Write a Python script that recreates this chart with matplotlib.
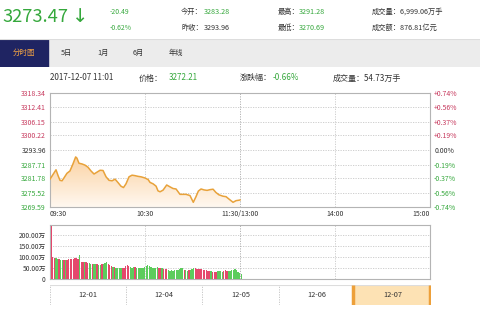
import numpy as np
import matplotlib
matplotlib.use("Agg")
import matplotlib.pyplot as plt
from matplotlib.colors import LinearSegmentedColormap
from matplotlib.patches import Rectangle

plt.rcParams['font.family'] = ['Noto Sans CJK SC', 'DejaVu Sans']

W, H = 481, 311

# ---------------- data ----------------
price_minutes = [0, 1.9, 3.8, 5.1, 6.3, 7.6, 8.8, 10.7, 12.6, 14.5, 16.2, 17, 18.3, 20.2, 22.1,
                 24, 25.9, 27.8, 29.7, 31.6, 33.5, 35.4, 37.3, 39.2, 41.1, 43, 44.8, 46.4, 48,
                 49.9, 51.8, 53.7, 55.6, 57.5, 60, 62, 63.2, 65.1, 67, 68.2, 69.5, 71.4, 73.7,
                 75.8, 77.7, 79.6, 82.1, 84, 85.9, 88.4, 90.5, 92.2, 93.7, 95.4, 97.3, 99.2,
                 101, 103, 104.8, 106.7, 109.3, 111.2, 113, 115.6, 117.5, 119.4, 120]
prices = [3281.5, 3283.5, 3285.5, 3283.0, 3281.0, 3280.8, 3282.0, 3284.0, 3285.0, 3288.0,
          3291.0, 3290.5, 3288.3, 3288.0, 3287.5, 3286.6, 3285.0, 3283.7, 3284.5, 3285.3,
          3285.2, 3282.5, 3281.0, 3280.8, 3281.5, 3280.0, 3278.5, 3277.9, 3279.5, 3282.5,
          3283.2, 3283.0, 3282.7, 3282.5, 3282.0, 3281.3, 3280.1, 3279.5, 3278.5, 3276.5,
          3276.1, 3276.8, 3279.0, 3278.2, 3277.5, 3277.3, 3275.0, 3275.0, 3275.0, 3274.5,
          3271.6, 3274.0, 3276.4, 3277.3, 3276.9, 3276.7, 3277.0, 3277.2, 3275.8, 3274.8,
          3274.2, 3274.0, 3273.0, 3271.6, 3272.3, 3272.5, 3272.6]

price_levels = [3318.34, 3312.41, 3306.15, 3300.22, 3293.96, 3287.71, 3281.78, 3275.52, 3269.59]
pct_labels = ['+0.74%', '+0.56%', '+0.37%', '+0.19%', '0.00%', '-0.19%', '-0.37%', '-0.56%', '-0.74%']
time_labels = ['09:30', '10:30', '11:30/13:00', '14:00', '15:00']
time_pos = [0, 60, 120, 180, 240]

volumes = [240, 98, 95, 96, 92, 90, 88, 86, 85, 84,
           88, 90, 92, 90, 93, 96, 95, 92, 108, 78,
           76, 75, 77, 73, 72, 70, 68, 66, 70, 68,
           65, 64, 66, 68, 72, 75, 70, 62, 58, 55,
           54, 52, 50, 52, 50, 48, 52, 58, 62, 60,
           55, 52, 53, 55, 52, 50, 52, 50, 52, 55,
           58, 62, 60, 56, 52, 50, 52, 55, 52, 50,
           48, 46, 45, 44, 40, 38, 40, 38, 40, 42,
           40, 44, 48, 50, 42, 40, 38, 40, 42, 46,
           50, 48, 46, 47, 45, 44, 42, 40, 40, 38,
           36, 35, 32, 30, 33, 36, 37, 35, 34, 38,
           40, 36, 37, 38, 40, 42, 46, 40, 32, 26, 22]
vol_dirs = ("rrrggrggrg" "rrrrrrrrgr" "rgrrggrggr" "ggrgggrrrg" "rggggrrrrr"
            "gggrgggggg" "ggggggggrr" "grrrgggggg" "ggggrggrgg" "grrrrrrrrr"
            "rgrrrggggr" "rrgggggggg" "g")
vol_ticks = [0, 50, 100, 150, 200]
vol_ticklabels = ['0', '50.00万', '100.00万', '150.00万', '200.00万']

dates = ['12-01', '12-04', '12-05', '12-06', '12-07']

# ---------------- colours ----------------
GREEN = '#35a83c'
RED = '#c73a5e'
DARK = '#333333'
GRID = '#c8c8c8'
BORDER = '#b4b4b4'
LINE = '#e8a23a'
VRED = '#e5486c'
VGREEN = '#5ccc5c'

fig = plt.figure(figsize=(W / 100, H / 100), dpi=100)
fig.patch.set_facecolor('white')


def rect(x0, y0, x1, y1):
    return [x0 / W, 1 - y1 / H, (x1 - x0) / W, (y1 - y0) / H]


def T(x, y, s, **kw):
    kw.setdefault('va', 'center')
    kw.setdefault('fontsize', 5.2)
    kw.setdefault('color', DARK)
    fig.text(x / W, 1 - y / H, s, **kw)


# ---------------- header ----------------
T(2, 17, '3273.47', fontsize=13.2, color=GREEN)
T(72, 17, '↓', fontsize=14, color=GREEN, family='DejaVu Sans')
T(110, 12, '-20.49', color=GREEN, fontsize=4.9)
T(110, 28, '-0.62%', color=GREEN, fontsize=4.9)
T(181, 12, '今开：')
T(204, 12, '3283.28', color=GREEN)
T(181, 28, '昨收：')
T(204, 28, '3293.96')
T(278, 12, '最高：')
T(299, 12, '3291.28', color=GREEN)
T(278, 28, '最低：')
T(299, 28, '3270.69', color=GREEN)
T(372, 12, '成交量：6,999.06万手')
T(372, 28, '成交额：876.81亿元')

# ---------------- tabs ----------------
tab = fig.add_axes(rect(0, 39, W, 67))
tab.set_xlim(0, W)
tab.set_ylim(0, 1)
tab.axis('off')
tab.add_patch(Rectangle((0, 0), W, 1, color='#ececec'))
tab.add_patch(Rectangle((0, 0), 48, 1, color='#1f2462'))
tab.plot([0, W], [1, 1], color='#dddddd', lw=0.8)
T(24, 53, '分时图', ha='center', color='#f5a443', fontsize=5.4)
for x, s in zip([66, 103, 138, 176], ['5日', '1月', '6月', '年线']):
    T(x, 53, s, ha='center', fontsize=5.2)

# ---------------- info line ----------------
T(50, 78, '2017-12-07 11:01', fontsize=5.8)
T(139, 78, '价格：', fontsize=5.8)
T(169, 78, '3272.21', color=GREEN, fontsize=5.8)
T(240, 78, '涨跌幅：', fontsize=5.8)
T(273, 78, '-0.66%', color=GREEN, fontsize=5.8)
T(333, 78, '成交量：54.73万手', fontsize=5.8)

# ---------------- price chart ----------------
ax = fig.add_axes(rect(50, 93, 430, 207))
ymin, ymax = price_levels[-1], price_levels[0]
poly = ax.fill_between(price_minutes, prices, ymin, color='none', lw=0)
cmap = LinearSegmentedColormap.from_list('g', ['#fff8f0', '#fbd2a2'])
grad = np.linspace(0, 1, 256).reshape(-1, 1)
im = ax.imshow(grad, extent=[0, 120, ymin, max(prices)], aspect='auto',
               cmap=cmap, origin='lower', zorder=1)
im.set_clip_path(poly.get_paths()[0], transform=ax.transData)
ax.plot(price_minutes, prices, color=LINE, lw=1.1, zorder=3)
ax.set_xlim(0, 240)
ax.set_ylim(ymin, ymax)
for lv in price_levels[1:-1]:
    ax.axhline(lv, color=GRID, lw=0.6, ls=(0, (1.5, 1.5)), zorder=0)
for xv in [60, 120, 180]:
    ax.axvline(xv, color='#aaaaaa' if xv == 120 else GRID, lw=0.6, ls=(0, (1.5, 1.5)), zorder=0)
for s in ax.spines.values():
    s.set_color(BORDER)
    s.set_linewidth(0.8)
ax.set_yticks(price_levels)
ax.set_yticklabels([f'{v:.2f}' for v in price_levels], fontsize=5)
ax.tick_params(axis='y', length=0, pad=3)
for i, lab in enumerate(ax.get_yticklabels()):
    lab.set_color(RED if i < 4 else (DARK if i == 4 else GREEN))
ax.set_xticks([])
ax2 = ax.twinx()
ax2.set_ylim(ymin, ymax)
ax2.set_yticks(price_levels)
ax2.set_yticklabels(pct_labels, fontsize=5)
ax2.tick_params(axis='y', length=0, pad=3)
for i, lab in enumerate(ax2.get_yticklabels()):
    lab.set_color(RED if i < 4 else (DARK if i == 4 else GREEN))
for s in ax2.spines.values():
    s.set_visible(False)

# time labels
for p, s in zip(time_pos, time_labels):
    x = 50 + p / 240 * 380
    ha = 'left' if p == 0 else ('right' if p == 240 else 'center')
    T(x, 214, s, ha=ha, fontsize=5)

# ---------------- volume chart ----------------
axv = fig.add_axes(rect(50, 225, 430, 279))
cols = [VRED if c == 'r' else VGREEN for c in vol_dirs]
axv.bar(np.arange(len(volumes)) + 0.75, volumes, width=0.85, align='center',
        color=cols, lw=0, zorder=3)
axv.set_xlim(0, 240)
axv.set_ylim(0, 245)
for v in vol_ticks[1:]:
    axv.axhline(v, color=GRID, lw=0.6, ls=(0, (1.5, 1.5)), zorder=0)
for xv in [60, 120, 180]:
    axv.axvline(xv, color='#aaaaaa' if xv == 120 else GRID, lw=0.6, ls=(0, (1.5, 1.5)), zorder=0)
for s in axv.spines.values():
    s.set_color(BORDER)
    s.set_linewidth(0.8)
axv.set_yticks(vol_ticks)
axv.set_yticklabels(vol_ticklabels, fontsize=4.8, color=DARK)
axv.tick_params(axis='y', length=0, pad=3)
axv.set_xticks([])

# ---------------- date bar ----------------
axd = fig.add_axes(rect(50, 285, 431, 305))
axd.set_xlim(0, 5)
axd.set_ylim(0, 1)
axd.axis('off')
axd.add_patch(Rectangle((3.97, 0), 1.03, 1, color='#fde2b4', zorder=1))
axd.plot([3.97, 3.97], [0, 1], color='#eda03a', lw=2.5, zorder=3, solid_capstyle='butt')
axd.plot([4.985, 4.985], [0, 1], color='#eda03a', lw=2.5, zorder=3, solid_capstyle='butt')
axd.plot([0, 5], [1, 1], color='#dddddd', lw=0.8)
for xv in [0, 1, 2, 3]:
    axd.plot([xv, xv], [0, 1], color='#c0c0c0', lw=0.6, ls=(0, (1.5, 1.5)))
for i, d in enumerate(dates):
    axd.text(i + 0.5, 0.5, d, ha='center', va='center', fontsize=5.3, color=DARK, zorder=4)

fig.savefig('out.png', dpi=100, facecolor='white')
